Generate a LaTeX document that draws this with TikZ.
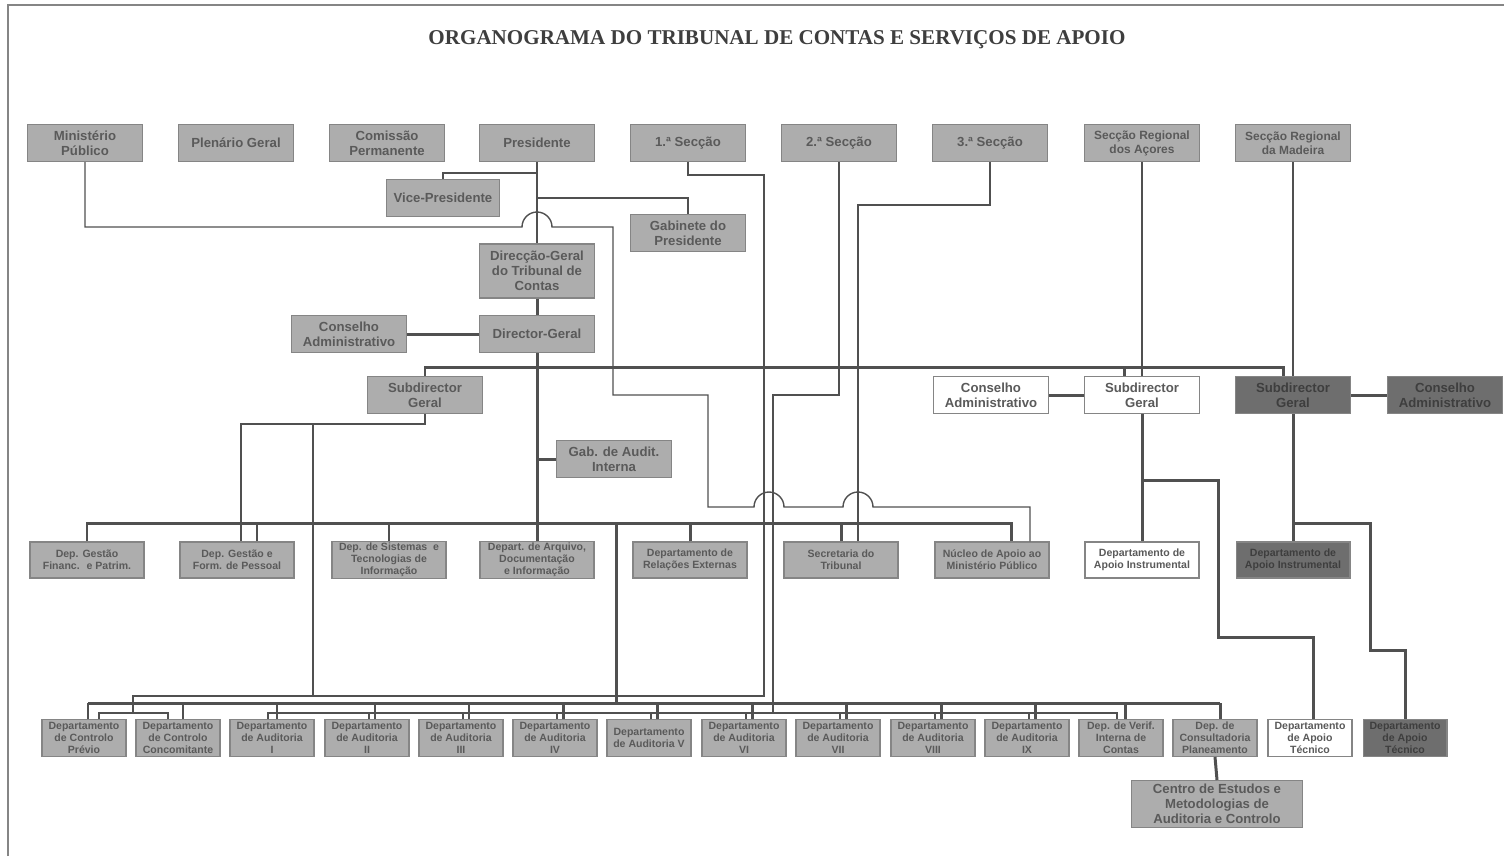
\documentclass[tikz,border=0pt]{standalone}
\usepackage{fontspec}
\setmainfont{Liberation Serif}
\setsansfont{Liberation Sans}
\usepackage{xcolor}
\usetikzlibrary{calc}
\definecolor{boxfill}{HTML}{ADADAD}
\definecolor{boxdark}{HTML}{6E6E6E}
\definecolor{boxline}{HTML}{858585}
\definecolor{boxtext}{HTML}{5A5A5A}
\definecolor{darktext}{HTML}{3E3E3E}
\definecolor{linkgray}{HTML}{505050}
\tikzset{
  box/.style={draw=boxline,fill=boxfill,text=boxtext,line width=0.6pt,align=center,inner sep=1pt,
    font=\sffamily\bfseries\fontsize{7.5}{8.5}\selectfont,minimum width=2.3cm,minimum height=0.74cm},
  regional/.style={font=\sffamily\bfseries\fontsize{6.8}{8}\selectfont},
  dept/.style={box,font=\sffamily\bfseries\fontsize{6}{6.8}\selectfont,minimum width=2.28cm,minimum height=0.72cm},
  sub/.style={dept,minimum width=1.68cm,minimum height=0.74cm},
  dark/.style={fill=boxdark,text=darktext},
  thinlink/.style={draw=linkgray,line width=0.8pt},
  thicklink/.style={draw=linkgray,line width=1.7pt},
}

\begin{document}
\begin{tikzpicture}[x=0.02cm,y=-0.02cm]
  \useasboundingbox (0,0) rectangle (1504,856);
  \draw[boxline,line width=0.8pt](8,856)--(8,5)--(1504,5);
  \node[font=\bfseries\fontsize{12}{14}\selectfont,text=darktext] (title) at (777,40)
    {ORGANOGRAMA DO TRIBUNAL DE CONTAS E SERVIÇOS DE APOIO};
  % top row
  \node[box] (mp) at (85,143) {Ministério\\Público};
  \node[box] (pg) at (236,143) {Plenário Geral};
  \node[box] (cp) at (387,143) {Comissão\\Permanente};
  \node[box] (pres) at (537,143) {Presidente};
  \node[box] (s1) at (688,143) {1.ª Secção};
  \node[box] (s2) at (839,143) {2.ª Secção};
  \node[box] (s3) at (990,143) {3.ª Secção};
  \node[box,regional] (sra) at (1142,143) {Secção Regional\\dos Açores};
  \node[box,regional] (srm) at (1293,143) {Secção Regional\\da Madeira};
  % presidency and direction
  \node[box,minimum width=2.26cm] (vp) at (443,198) {Vice-Presidente};
  \node[box] (gab) at (688,233) {Gabinete do\\Presidente};
  \node[box,minimum height=1.08cm] (dgtc) at (537,271) {Direcção-Geral\\do Tribunal de\\Contas};
  \node[box] (dg) at (537,334) {Director-Geral};
  \node[box] (caL) at (349,334) {Conselho\\Administrativo};
  \node[box] (sdL) at (425,395) {Subdirector\\Geral};
  \node[box] (gai) at (614,459) {Gab. de Audit.\\Interna};
  % regional services
  \node[box,fill=white] (caW) at (991,395) {Conselho\\Administrativo};
  \node[box,fill=white] (sdW) at (1142,395) {Subdirector\\Geral};
  \node[box,dark] (sdD) at (1293,395) {Subdirector\\Geral};
  \node[box,dark] (caD) at (1445,395) {Conselho\\Administrativo};
  % middle row
  \node[dept] (dgf) at (87,560) {Dep. Gestão\\Financ.~ e Patrim.};
  \node[dept] (dgp) at (237,560) {Dep. Gestão e\\Form. de Pessoal};
  \node[dept] (dsti) at (389,560) {Dep. de Sistemas~ e\\Tecnologias de\\Informação};
  \node[dept] (dadi) at (537,560) {Depart. de Arquivo,\\Documentação\\e Informação};
  \node[dept] (dre) at (690,560) {Departamento de\\Relações Externas};
  \node[dept] (st) at (841,560) {Secretaria do\\Tribunal};
  \node[dept] (nampp) at (992,560) {Núcleo de Apoio ao\\Ministério Público};
  \node[dept,fill=white] (daiW) at (1142,560) {Departamento de\\Apoio Instrumental};
  \node[dept,dark] (daiD) at (1293,560) {Departamento de\\Apoio Instrumental};
  % bottom row
  \node[sub] (dcp) at (84,738) {Departamento\\de Controlo\\Prévio};
  \node[sub] (dcc) at (178,738) {Departamento\\de Controlo\\Concomitante};
  \node[sub] (da1) at (272,738) {Departamento\\de Auditoria\\I};
  \node[sub] (da2) at (367,738) {Departamento\\de Auditoria\\II};
  \node[sub] (da3) at (461,738) {Departamento\\de Auditoria\\III};
  \node[sub] (da4) at (555,738) {Departamento\\de Auditoria\\IV};
  \node[sub] (da5) at (649,738) {Departamento\\de Auditoria V};
  \node[sub] (da6) at (744,738) {Departamento\\de Auditoria\\VI};
  \node[sub] (da7) at (838,738) {Departamento\\de Auditoria\\VII};
  \node[sub] (da8) at (933,738) {Departamento\\de Auditoria\\VIII};
  \node[sub] (da9) at (1027,738) {Departamento\\de Auditoria\\IX};
  \node[sub] (dvic) at (1121,738) {Dep. de Verif.\\Interna de\\Contas};
  \node[sub] (dcpl) at (1215,738) {Dep. de\\Consultadoria\\Planeamento};
  \node[sub,fill=white] (datW) at (1310,738) {Departamento\\de Apoio\\Técnico};
  \node[sub,dark] (datD) at (1405,738) {Departamento\\de Apoio\\Técnico};
  \node[box,minimum width=3.42cm,minimum height=0.94cm] (cema) at (1217,804) {Centro de Estudos e\\Metodologias de\\Auditoria e Controlo};

  % presidente links
  \draw[thinlink](pres.south)--(dgtc.north);
  \coordinate (jvp) at (537,173);
  \coordinate (jgab) at (537,198);
  \draw[thinlink](jvp)-|(vp.north);
  \draw[thinlink](jgab)-|(gab.north);
  % ministerio publico line with hops
  \draw[thinlink](mp.south)|-(522,227) arc[start angle=180,end angle=0,radius=0.3cm]
    --(613,227)|-(708,395)|-(754,507) arc[start angle=180,end angle=0,radius=0.3cm]
    --(843,507) arc[start angle=180,end angle=0,radius=0.3cm]
    -|($(nampp.north)+(38,0)$);
  % seccoes
  \draw[thinlink](s1.south)|-(764,175)|-(133,696)--(133,714);
  \draw[thinlink]($(dcp.north)+(15,0)$)|-($(dcc.north)+(-10,-6)$)--($(dcc.north)+(-10,0)$);
  \draw[thinlink](s2.south)|-(773,395)--(773,713);
  \draw[thinlink](s3.south)|-(858,205)--($(st.north)+(17,0)$);
  % direccao geral
  \draw[thicklink](dgtc.south)--(dg.north);
  \draw[thicklink](caL.east)--(dg.west);
  \coordinate (jmid) at (537,523);
  \draw[thicklink](dg.south)--(jmid)--(dadi.north);
  \draw[thicklink](537,459)--(gai.west);
  \draw[thicklink](sdL.north)|-(1283,367)--($(sdD.north)+(-10,0)$);
  \draw[thicklink](1124,367)--($(sdW.north)+(-18,0)$);
  % subdirector geral
  \draw[line width=1.1pt,linkgray](sdL.south)|-(241,424)--($(dgp.north)+(4,0)$);
  \draw[line width=1.1pt,linkgray](313,424)--(313,696);
  % middle bus
  \draw[thicklink](87,523)--(1011,523);
  \draw[thicklink](dgf.north)--++(0,-19);
  \draw[thicklink]($(dgp.north)+(20,0)$)--++(0,-19);
  \draw[thicklink](dsti.north)--++(0,-19);
  \draw[thicklink](dre.north)--++(0,-19);
  \draw[thicklink](st.north)--++(0,-19);
  \draw[thicklink]($(nampp.north)+(19,0)$)--++(0,-19);
  \draw[thicklink](616,523)--(616,703);
  % bottom bus
  \draw[thicklink](88,703)--(1220,703);
  \draw[thicklink]($(dcp.north)+(4,0)$)--++(0,-16);
  \draw[thicklink]($(dcc.north)+(5,0)$)--++(0,-16);
  \draw[thicklink]($(da1.north)+(5,0)$)--++(0,-16);
  \draw[thicklink]($(da2.north)+(8,0)$)--++(0,-16);
  \draw[thicklink]($(da3.north)+(8,0)$)--++(0,-16);
  \draw[thicklink]($(da4.north)+(8,0)$)--++(0,-16);
  \draw[thicklink]($(da5.north)+(8,0)$)--++(0,-16);
  \draw[thicklink]($(da6.north)+(8,0)$)--++(0,-16);
  \draw[thicklink]($(da7.north)+(8,0)$)--++(0,-16);
  \draw[thicklink]($(da8.north)+(8,0)$)--++(0,-16);
  \draw[thicklink]($(da9.north)+(8,0)$)--++(0,-16);
  \draw[thicklink]($(dvic.north)+(4,0)$)--++(0,-16);
  \draw[thicklink]($(dcpl.north)+(5,0)$)--++(0,-16);
  % auditoria thin bus
  \draw[thinlink](267,713)--(1118,713);
  \draw[thinlink]($(da1.north)+(-4,0)$)--++(0,-7);
  \draw[thinlink]($(da2.north)+(2,0)$)--++(0,-7);
  \draw[thinlink]($(da3.north)+(2,0)$)--++(0,-7);
  \draw[thinlink]($(da4.north)+(2,0)$)--++(0,-7);
  \draw[thinlink]($(da5.north)+(2,0)$)--++(0,-7);
  \draw[thinlink]($(da6.north)+(2,0)$)--++(0,-7);
  \draw[thinlink]($(da7.north)+(2,0)$)--++(0,-7);
  \draw[thinlink]($(da8.north)+(2,0)$)--++(0,-7);
  \draw[thinlink]($(da9.north)+(2,0)$)--++(0,-7);
  \draw[thinlink]($(dvic.north)+(-4,0)$)--++(0,-7);
  \draw[thicklink](dcpl.south)--(cema.north);
  % regional links
  \draw[thinlink](sra.south)--(sdW.north);
  \draw[thinlink](srm.south)--(sdD.north);
  \draw[thicklink](caW.east)--(sdW.west);
  \draw[thicklink](sdD.east)--(caD.west);
  \draw[thicklink](sdW.south)--(daiW.north);
  \draw[thicklink](sdD.south)--(daiD.north);
  \coordinate (jw) at (1142,480);
  \coordinate (jd) at (1293,523);
  \draw[thicklink](jw)-|(1218,637)-|($(datW.north)+(3,0)$);
  \draw[thicklink](jd)-|(1370,650)-|(datD.north);
\end{tikzpicture}
\end{document}
